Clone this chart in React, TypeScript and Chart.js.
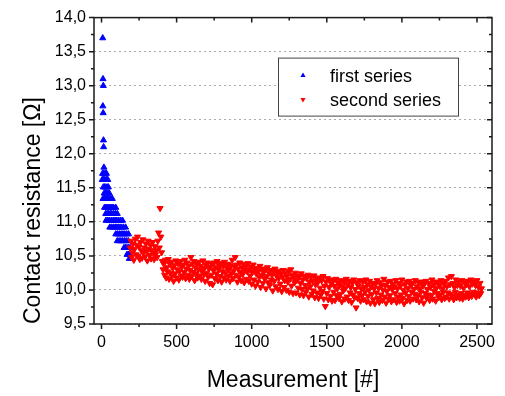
import React, { useEffect, useRef } from 'react';
import { Chart, registerables } from 'chart.js';

Chart.register(...registerables);

// ---- data ----
const seriesNames = ['first series', 'second series'];
const xTitle = 'Measurement [#]';
const yTitle = 'Contact resistance [Ω]';

const xMajorTicks = [0, 500, 1000, 1500, 2000, 2500];
const xMinorTicks = [250, 750, 1250, 1750, 2250];
const yMajorTicks = [9.5, 10.0, 10.5, 11.0, 11.5, 12.0, 12.5, 13.0, 13.5, 14.0];
const yMinorTicks = [9.75, 10.25, 10.75, 11.25, 11.75, 12.25, 12.75, 13.25, 13.75];

// first series: measurement number and value
const blueX = [
  8, 10, 12, 9, 11, 13, 14, 16,
  7, 15, 24, 33,
  5, 13, 22, 32, 42,
  12, 20, 28, 38, 46,
  18, 26, 34, 44, 52,
  10, 20, 30, 40, 50, 62, 72,
  20, 30, 40, 50, 60, 70, 80, 95,
  28, 38, 48, 58, 68, 80, 92, 105,
  30, 42, 54, 66, 78, 90, 102, 115, 128, 140,
  55, 67, 79, 91, 103, 116, 130, 145, 160,
  95, 107, 119, 131, 143, 155, 168, 180,
  105, 117, 129, 141, 153, 165, 178,
  150, 160, 170, 180, 190,
  170, 180, 190,
  185,
];
const blueY = [
  13.70, 13.10, 13.00, 12.70, 12.60, 12.20, 12.10, 11.80,
  11.71, 11.71, 11.71, 11.71,
  11.62, 11.62, 11.62, 11.62, 11.62,
  11.51, 11.51, 11.51, 11.51, 11.51,
  11.42, 11.42, 11.42, 11.42, 11.42,
  11.34, 11.34, 11.34, 11.34, 11.34, 11.34, 11.34,
  11.21, 11.21, 11.21, 11.21, 11.21, 11.21, 11.21, 11.21,
  11.12, 11.12, 11.12, 11.12, 11.12, 11.12, 11.12, 11.12,
  11.02, 11.02, 11.02, 11.02, 11.02, 11.02, 11.02, 11.02, 11.02, 11.02,
  10.92, 10.92, 10.92, 10.92, 10.92, 10.92, 10.92, 10.92, 10.92,
  10.82, 10.82, 10.82, 10.82, 10.82, 10.82, 10.82, 10.82,
  10.72, 10.72, 10.72, 10.72, 10.72, 10.72, 10.72,
  10.62, 10.62, 10.62, 10.62, 10.62,
  10.52, 10.52, 10.52,
  10.46,
];

// second series: one value every 5th measurement, from measurement 190
const redStart = 190;
const redStep = 5;
const redY = [
  10.62, 10.72, 10.48, 10.55, 10.68, 10.44, 10.60, 10.75, 10.52, 10.66,
  10.78, 10.50, 10.63, 10.45, 10.70, 10.58, 10.47, 10.74, 10.55, 10.62,
  10.49, 10.68, 10.57, 10.43, 10.72, 10.60, 10.51, 10.66, 10.46, 10.58,
  10.70, 10.54, 10.45, 10.64, 10.52, 10.58, 10.48, 10.72, 10.84, 10.62,
  11.20, 10.78, 10.55, 10.42, 10.30, 10.38, 10.22, 10.44, 10.18, 10.33,
  10.27, 10.45, 10.16, 10.38, 10.25, 10.41, 10.20, 10.32, 10.13, 10.36,
  10.24, 10.43, 10.18, 10.30, 10.39, 10.15, 10.28, 10.42, 10.21, 10.34,
  10.19, 10.37, 10.26, 10.44, 10.17, 10.31, 10.40, 10.22, 10.35, 10.16,
  10.29, 10.48, 10.20, 10.38, 10.26, 10.42, 10.14, 10.33, 10.24, 10.39,
  10.18, 10.30, 10.41, 10.21, 10.35, 10.16, 10.28, 10.43, 10.23, 10.32,
  10.13, 10.37, 10.25, 10.40, 10.19, 10.31, 10.10, 10.34, 10.22, 10.38,
  10.08, 10.29, 10.40, 10.17, 10.33, 10.24, 10.42, 10.14, 10.30, 10.36,
  10.20, 10.39, 10.12, 10.27, 10.35, 10.18, 10.41, 10.25, 10.15, 10.32,
  10.38, 10.21, 10.30, 10.13, 10.36, 10.24, 10.44, 10.17, 10.28, 10.34,
  10.48, 10.22, 10.37, 10.12, 10.31, 10.19, 10.40, 10.26, 10.14, 10.33,
  10.23, 10.38, 10.11, 10.29, 10.35, 10.16, 10.27, 10.39, 10.13, 10.30,
  10.21, 10.34, 10.09, 10.26, 10.37, 10.15, 10.30, 10.06, 10.24, 10.32,
  10.12, 10.28, 10.19, 10.35, 10.04, 10.22, 10.31, 10.10, 10.26, 10.17,
  10.30, 10.02, 10.20, 10.33, 10.11, 10.25, 10.07, 10.29, 10.15, 10.22,
  9.99, 10.27, 10.13, 10.31, 10.05, 10.21, 10.26, 10.01, 10.17, 10.28,
  10.09, 10.23, 9.98, 10.19, 10.29, 10.04, 10.14, 10.25, 10.00, 10.20,
  10.12, 10.28, 9.97, 10.16, 10.30, 10.06, 10.22, 9.95, 10.18, 10.11,
  10.25, 9.96, 10.14, 10.21, 10.03, 10.19, 9.93, 10.10, 10.24, 10.01,
  10.15, 9.92, 10.20, 10.07, 9.97, 10.17, 10.02, 10.22, 9.90, 10.12,
  10.05, 10.19, 9.94, 10.13, 9.99, 10.21, 9.89, 10.08, 10.16, 9.96,
  10.11, 9.88, 10.18, 10.03, 9.93, 10.14, 9.98, 10.20, 9.87, 10.06,
  9.76, 10.12, 9.95, 10.17, 9.86, 10.04, 10.15, 9.91, 10.09, 9.84,
  10.13, 9.97, 10.06, 9.85, 10.16, 9.92, 10.02, 10.11, 9.88, 10.07,
  9.94, 10.14, 9.83, 10.05, 9.99, 10.12, 9.87, 10.03, 10.16, 9.90,
  10.08, 9.85, 10.13, 9.96, 10.04, 9.82, 10.10, 9.93, 10.15, 9.89,
  10.01, 9.74, 10.11, 9.88, 10.06, 9.95, 10.14, 9.84, 10.02, 9.92,
  10.12, 9.86, 10.04, 9.97, 10.15, 9.83, 10.08, 9.91, 10.00, 10.13,
  9.81, 10.05, 9.94, 10.10, 9.86, 10.02, 9.80, 10.09, 9.96, 10.14,
  9.88, 10.03, 9.82, 10.11, 9.93, 10.06, 9.85, 10.00, 10.16, 9.90,
  10.07, 9.81, 9.98, 10.12, 9.87, 10.04, 9.92, 10.13, 9.83, 10.01,
  10.09, 9.86, 10.05, 9.95, 10.14, 9.82, 10.02, 9.90, 10.10, 9.84,
  10.06, 9.93, 10.15, 9.88, 10.00, 9.80, 10.08, 9.96, 10.12, 9.85,
  10.03, 9.91, 10.13, 9.84, 10.07, 9.97, 10.10, 9.87, 10.01, 9.94,
  10.14, 9.86, 10.05, 9.92, 10.11, 9.83, 10.02, 9.97, 10.12, 9.89,
  10.06, 9.81, 10.09, 9.95, 10.13, 9.88, 10.01, 9.93, 10.10, 9.85,
  10.04, 9.92, 10.15, 9.87, 10.07, 9.98, 10.12, 9.84, 10.03, 9.95,
  10.11, 9.89, 10.06, 9.93, 10.14, 9.86, 10.02, 9.97, 10.09, 9.88,
  10.13, 9.90, 10.05, 9.96, 10.18, 9.87, 10.08, 9.94, 10.20, 9.91,
  10.10, 9.86, 10.04, 9.97, 10.15, 9.89, 10.07, 9.93, 10.12, 9.88,
  10.06, 9.95, 10.14, 9.87, 10.03, 9.92, 10.11, 9.90, 10.08, 9.96,
  10.13, 9.89, 10.05, 9.94, 10.15, 9.91, 10.09, 9.97, 10.12, 9.93,
  10.07, 9.90, 10.14, 9.96, 10.04, 9.92, 10.10, 9.95, 10.02,
];

const FONT = 'Arial, "Liberation Sans", sans-serif';

const framePlugin = {
  id: 'frameTicks',
  afterDraw(chart: any) {
    const { ctx, chartArea, scales } = chart;
    const { left, right, top, bottom } = chartArea;
    const x = scales.x;
    const y = scales.y;
    const maj = 5;
    const mnr = 3;
    ctx.save();
    ctx.strokeStyle = '#1a1a1a';
    ctx.lineWidth = 1.5;
    ctx.strokeRect(left, top, right - left, bottom - top);
    ctx.beginPath();
    xMajorTicks.forEach((v) => {
      const px = x.getPixelForValue(v);
      ctx.moveTo(px, bottom); ctx.lineTo(px, bottom + maj);
      ctx.moveTo(px, top); ctx.lineTo(px, top + maj);
    });
    xMinorTicks.forEach((v) => {
      const px = x.getPixelForValue(v);
      ctx.moveTo(px, bottom); ctx.lineTo(px, bottom + mnr);
      ctx.moveTo(px, top); ctx.lineTo(px, top + mnr);
    });
    yMajorTicks.forEach((v) => {
      const py = y.getPixelForValue(v);
      ctx.moveTo(left, py); ctx.lineTo(left - maj, py);
      ctx.moveTo(right, py); ctx.lineTo(right - maj, py);
    });
    yMinorTicks.forEach((v) => {
      const py = y.getPixelForValue(v);
      ctx.moveTo(left, py); ctx.lineTo(left - mnr, py);
      ctx.moveTo(right, py); ctx.lineTo(right - mnr, py);
    });
    ctx.stroke();
    ctx.restore();
  },
};

const legendPlugin = {
  id: 'boxLegend',
  afterDraw(chart: any) {
    const { ctx, chartArea } = chart;
    const x0 = chartArea.left + 184;
    const y0 = chartArea.top + 40;
    const w = 180;
    const h = 58;
    ctx.save();
    ctx.fillStyle = '#ffffff';
    ctx.fillRect(x0, y0, w, h);
    ctx.strokeStyle = '#444444';
    ctx.lineWidth = 1;
    ctx.strokeRect(x0 + 0.5, y0 + 0.5, w, h);
    chart.data.datasets.forEach((ds: any, i: number) => {
      const cy = y0 + 18 + i * 24;
      const cx = x0 + 25;
      const r = 3;
      const rot = ds.pointRotation ? Math.PI : 0;
      ctx.fillStyle = ds.backgroundColor;
      ctx.beginPath();
      for (let k = 0; k < 3; k++) {
        const a = rot + (k * 2 * Math.PI) / 3;
        const px = cx + Math.sin(a) * r;
        const py = cy - Math.cos(a) * r;
        if (k === 0) ctx.moveTo(px, py); else ctx.lineTo(px, py);
      }
      ctx.closePath();
      ctx.fill();
      ctx.fillStyle = '#000000';
      ctx.font = `18px ${FONT}`;
      ctx.textBaseline = 'middle';
      ctx.textAlign = 'left';
      ctx.fillText(ds.label, x0 + 52, cy + 1);
    });
    ctx.restore();
  },
};

export default function App() {
  const canvasRef = useRef<HTMLCanvasElement | null>(null);

  useEffect(() => {
    if (!canvasRef.current) return;
    const blueData = blueX.map((x, i) => ({ x, y: blueY[i] }));
    const redData = redY.map((y, i) => ({ x: redStart + i * redStep, y }));

    const chart = new Chart(canvasRef.current, {
      type: 'scatter',
      data: {
        datasets: [
          {
            label: seriesNames[0],
            data: blueData,
            backgroundColor: '#0000ff',
            borderColor: '#0000ff',
            pointStyle: 'triangle',
            pointRadius: 3.5,
            pointBorderWidth: 1,
            pointRotation: 0,
            order: 2,
          },
          {
            label: seriesNames[1],
            data: redData,
            backgroundColor: '#ff0000',
            borderColor: '#ff0000',
            pointStyle: 'triangle',
            pointRadius: 3.5,
            pointBorderWidth: 1,
            pointRotation: 180,
            order: 1,
          },
        ] as any,
      },
      options: {
        animation: false,
        responsive: true,
        maintainAspectRatio: false,
        devicePixelRatio: 1,
        layout: { padding: { left: 0, right: 13, top: 16, bottom: 0 } },
        plugins: {
          legend: { display: false },
          tooltip: { enabled: false },
        },
        scales: {
          x: {
            type: 'linear',
            min: -50,
            max: 2600,
            afterBuildTicks: (s: any) => {
              s.ticks = xMajorTicks.map((v) => ({ value: v }));
            },
            afterFit: (s: any) => {
              s.height = 72;
            },
            ticks: {
              color: '#000',
              font: { size: 16, family: FONT },
              padding: 9,
              maxRotation: 0,
              callback: (v: any) => String(v),
            },
            grid: { display: false, drawTicks: false },
            border: { display: false },
            title: {
              display: true,
              text: xTitle,
              color: '#000',
              font: { size: 23, family: FONT },
              padding: { top: 0, bottom: 2 },
            },
          },
          y: {
            type: 'linear',
            min: 9.5,
            max: 14,
            afterBuildTicks: (s: any) => {
              s.ticks = yMajorTicks.map((v) => ({ value: v }));
            },
            afterFit: (s: any) => {
              s.width = 94;
            },
            ticks: {
              color: '#000',
              font: { size: 16, family: FONT },
              padding: 8,
              callback: (v: any) => Number(v).toFixed(1).replace('.', ','),
            },
            grid: { color: '#aaaaaa', lineWidth: 1, drawTicks: false },
            border: { display: false, dash: [2, 3] },
            title: {
              display: true,
              text: yTitle,
              align: 'start',
              color: '#000',
              font: { size: 23, family: FONT },
              padding: { top: 20, bottom: 0 },
            },
          },
        },
      } as any,
      plugins: [framePlugin, legendPlugin],
    });
    return () => chart.destroy();
  }, []);

  return (
    <div style={{ position: 'absolute', left: 0, top: 0, width: 505, height: 396, background: '#fff' }}>
      <canvas ref={canvasRef} />
    </div>
  );
}
